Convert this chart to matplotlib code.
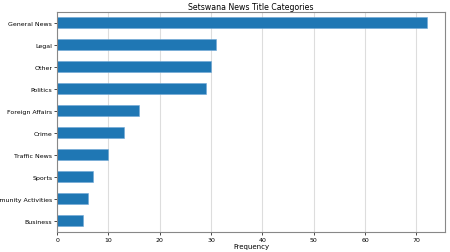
import matplotlib
matplotlib.use("Agg")
import matplotlib.pyplot as plt

categories = ["General News", "Legal", "Other", "Politics", "Foreign Affairs",
              "Crime", "Traffic News", "Sports", "Community Activities", "Business"]
counts = [72, 31, 30, 29, 16, 13, 10, 7, 6, 5]

fig = plt.figure(figsize=(4.5, 2.53), dpi=100)
ax = fig.add_axes([0.127, 0.08, 0.862, 0.87])

y = list(range(len(categories)))[::-1]
ax.barh(y, counts, height=0.5, color="#1f77b4", edgecolor="#6fa8d6", linewidth=0.4, zorder=2)
ax.set_yticks(y)
ax.set_yticklabels(categories)
ax.set_ylim(-0.5, len(categories) - 0.5)
ax.set_xlim(0, 75.6)
ax.set_xticks(range(0, 71, 10))
ax.grid(axis="x", color="#dddddd", linewidth=0.8, zorder=0)
ax.set_axisbelow(True)
ax.tick_params(labelsize=4.5, length=2, width=0.5, pad=1.5)
for s in ax.spines.values():
    s.set_color("#888888")
    s.set_linewidth(0.8)
ax.set_xlabel("Frequency", fontsize=5, labelpad=1)
ax.set_title("Setswana News Title Categories", fontsize=5.6, pad=2)

fig.savefig("out.png", dpi=100)
